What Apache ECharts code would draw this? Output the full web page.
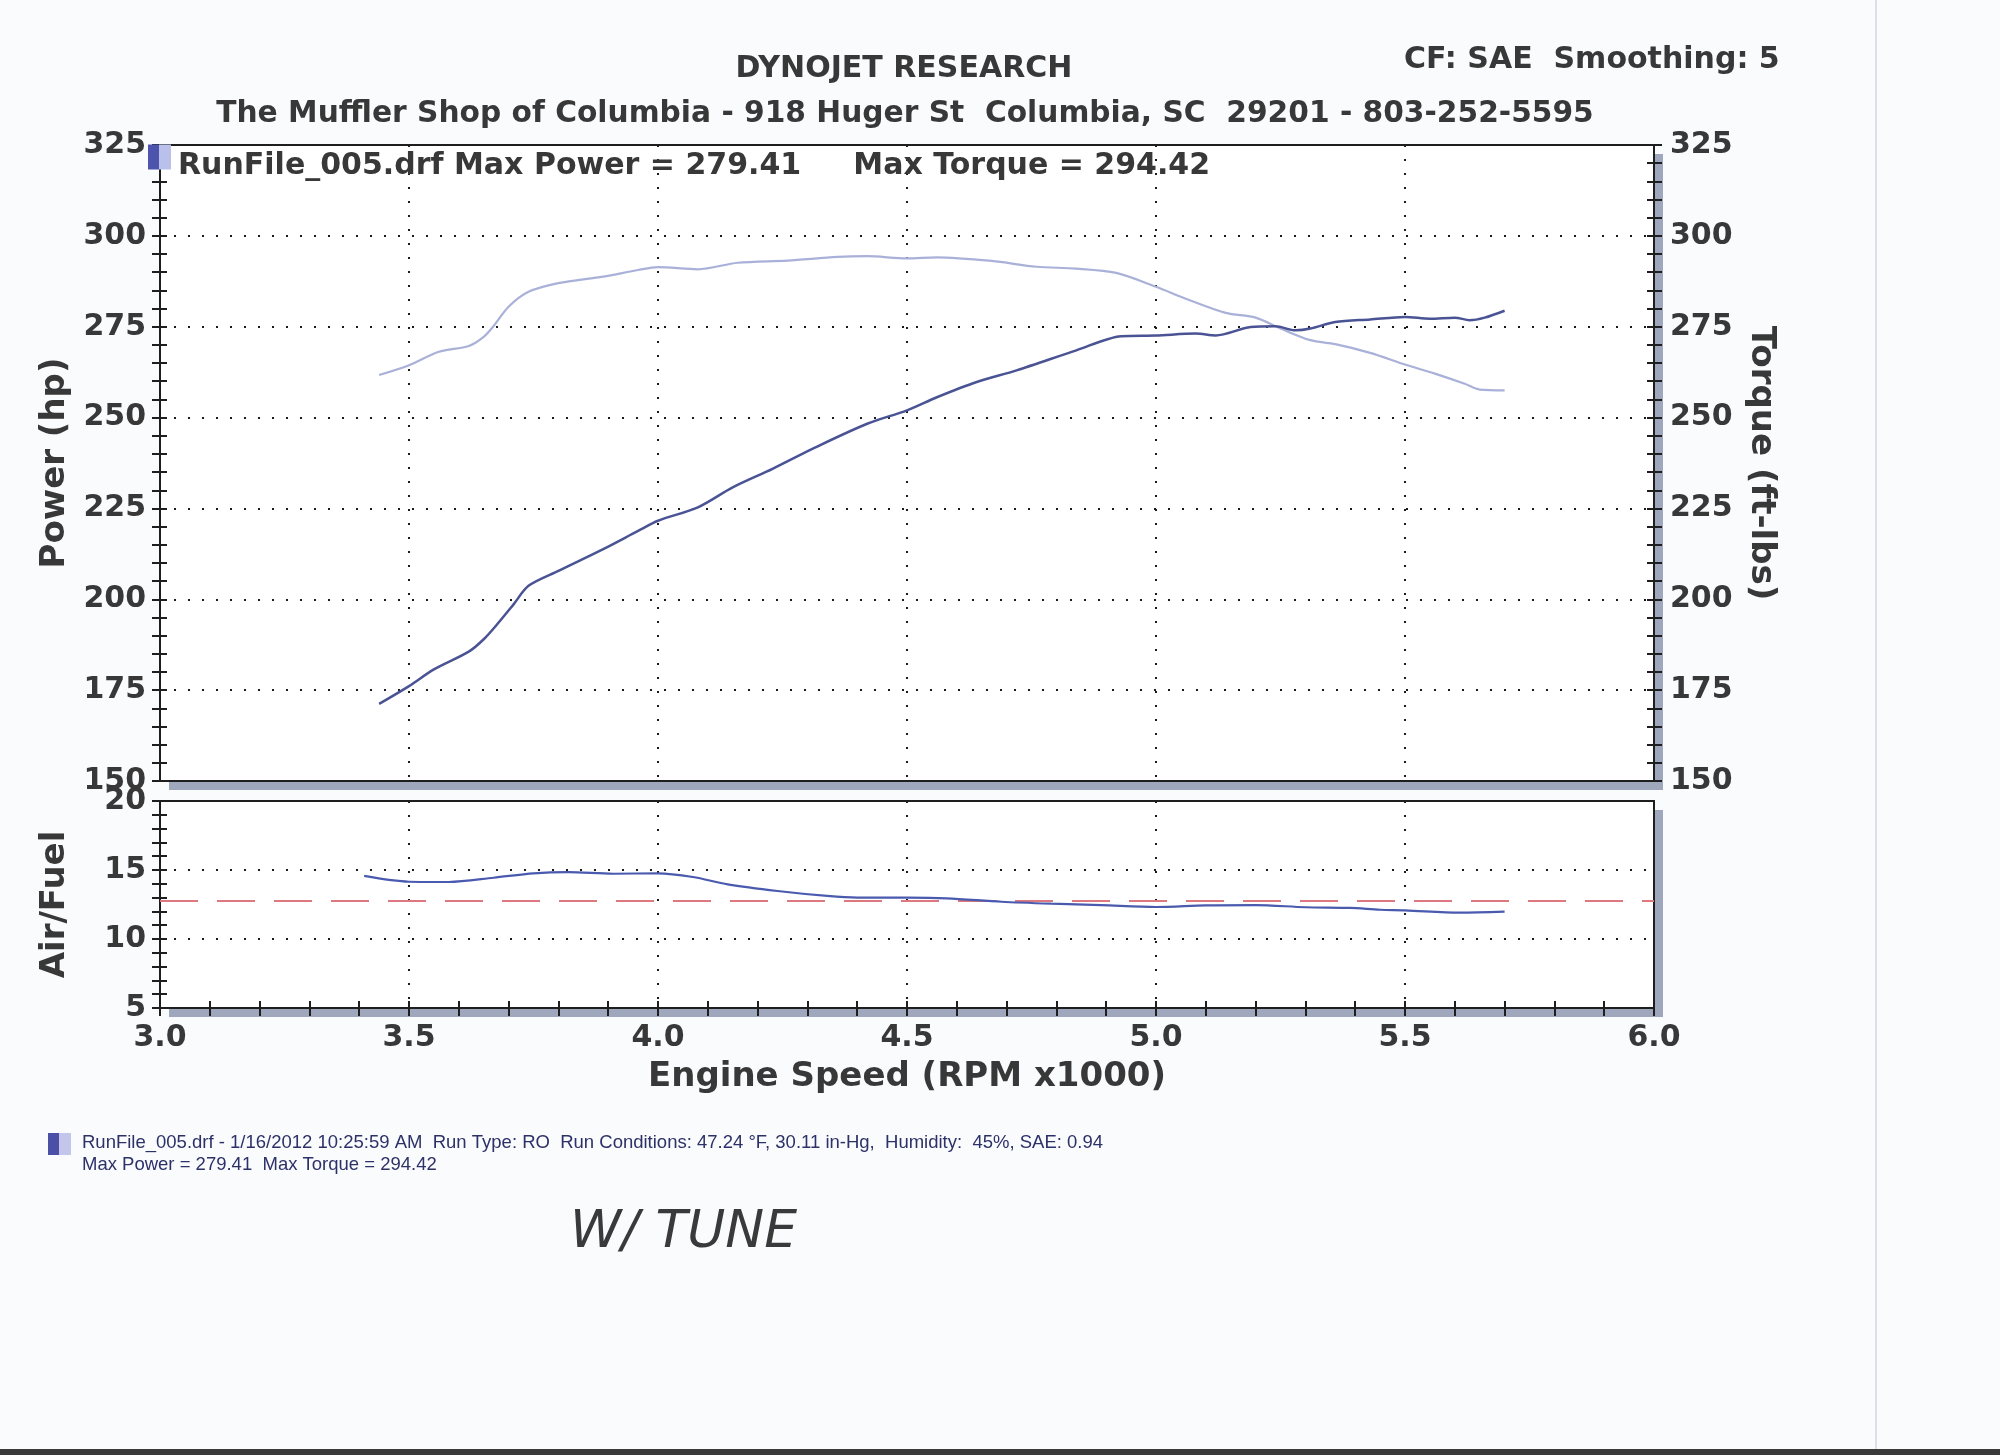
<!DOCTYPE html>
<html>
<head>
<meta charset="utf-8">
<script src="https://cdn.jsdelivr.net/npm/echarts@6/dist/echarts.min.js"></script>
<style>
html,body{margin:0;padding:0;background:#fafbfd;}
#chart{width:2000px;height:1455px;}
</style>
</head>
<body>
<div id="chart"></div>
<script>
// ---- Data read from the dyno sheet ----
const powerRpm = [3.44,3.50,3.55,3.62,3.65,3.68,3.71,3.74,3.80,3.89,3.96,4.00,4.08,4.15,4.23,4.31,4.42,4.50,4.56,4.64,4.72,4.84,4.93,5.00,5.08,5.12,5.19,5.24,5.28,5.31,5.36,5.43,5.50,5.55,5.60,5.63,5.66,5.70];
const powerHp  = [171.2,176.1,180.7,185.6,189.0,193.6,198.6,203.7,207.8,213.8,218.8,221.6,225.3,230.8,235.9,241.4,248.3,252.0,255.6,259.8,263.0,268.5,272.4,272.6,273.1,272.6,274.9,275.1,274.0,274.5,276.3,277.0,277.7,277.2,277.5,276.8,277.5,279.4];

const torqueRpm = [3.44,3.50,3.56,3.62,3.65,3.67,3.70,3.74,3.80,3.89,3.96,4.00,4.08,4.16,4.26,4.36,4.42,4.50,4.56,4.67,4.76,4.84,4.92,5.00,5.06,5.14,5.20,5.25,5.31,5.36,5.43,5.50,5.56,5.62,5.65,5.70];
const torqueFtLb = [261.7,264.4,268.1,269.7,272.2,275.2,280.5,284.6,287.0,288.8,290.6,291.4,290.8,292.6,293.2,294.2,294.4,293.8,294.1,293.1,291.5,291.0,289.8,286.0,282.7,278.8,277.5,274.5,271.3,270.2,267.8,264.6,262.1,259.3,257.7,257.5];

const afrRpm = [3.41,3.50,3.58,3.67,3.75,3.82,3.91,4.00,4.07,4.14,4.24,4.34,4.40,4.50,4.58,4.69,4.79,4.89,5.00,5.10,5.20,5.30,5.39,5.45,5.50,5.61,5.70];
const afrRatio = [14.57,14.15,14.13,14.44,14.76,14.85,14.73,14.76,14.49,13.96,13.48,13.12,13.0,13.0,12.95,12.70,12.56,12.46,12.32,12.44,12.46,12.30,12.25,12.12,12.08,11.91,11.98];

const targetAfr = 12.8;

const rpmTicks = ['3.0','3.5','4.0','4.5','5.0','5.5','6.0'];
const powerTicks = [150,175,200,225,250,275,300,325];
const afrTicks = [5,10,15,20];

const runName = 'RunFile_005.drf';
const maxPower = '279.41';
const maxTorque = '294.42';

// ---- Helpers ----
const zip = (xs, ys) => xs.map((x, i) => [x, ys[i]]);
const FONT = 'DejaVu Sans';
const TXT = '#383838';
const INK = '#1e1e1e';
const dotted = { color: '#1a1a1a', width: 2, type: [2, 12] };
const lblStyle = { fontFamily: FONT, fontWeight: 'bold', fontSize: 30, color: TXT };
const nameStyle = { fontFamily: FONT, fontWeight: 'bold', fontSize: 34, color: TXT };
const solid = { color: INK, width: 2 };

const chart = echarts.init(document.getElementById('chart'), null, { renderer: 'canvas' });

const gridBase = {
  show: true, backgroundColor: '#ffffff', borderWidth: 0,
  shadowColor: '#9ea7bc', shadowOffsetX: 9, shadowOffsetY: 9, shadowBlur: 0
};

const yPair = (grid, min, max, interval, pos, extra) => ([
  Object.assign({
    type: 'value', gridIndex: grid, min, max, interval, position: pos,
    axisLine: { show: true, onZero: false, lineStyle: solid },
    axisTick: { show: true, inside: false, length: 8, lineStyle: solid },
    minorTick: { show: true, splitNumber: 5, length: 8, lineStyle: solid },
    axisLabel: Object.assign({ margin: 14 }, lblStyle),
    splitLine: { show: false }
  }, extra),
  {
    type: 'value', gridIndex: grid, min, max, interval, position: pos,
    axisLine: { show: false },
    axisTick: { show: true, inside: true, length: 7, lineStyle: solid },
    minorTick: { show: true, splitNumber: 5, length: 7, lineStyle: solid },
    axisLabel: { show: false }, splitLine: { show: false }
  }
]);

const frameY = (grid, min, max, pos) => ({
  type: 'value', gridIndex: grid, min, max, position: pos,
  axisLine: { show: true, onZero: false, lineStyle: solid },
  axisTick: { show: false }, axisLabel: { show: false }, splitLine: { show: false }
});

const yAxes = [].concat(
  yPair(0, 150, 325, 25, 'left', {
    name: 'Power (hp)', nameLocation: 'middle', nameGap: 88, nameTextStyle: nameStyle,
    splitLine: { show: true, lineStyle: dotted }
  }),
  yPair(0, 150, 325, 25, 'right', {
    name: 'Torque (ft-lbs)', nameLocation: 'middle', nameGap: 88, nameRotate: -90, nameTextStyle: nameStyle,
    axisLabel: Object.assign({ margin: 16 }, lblStyle)
  }),
  yPair(1, 5, 20, 5, 'left', {
    name: 'Air/Fuel', nameLocation: 'middle', nameGap: 88, nameTextStyle: nameStyle,
    splitLine: { show: true, lineStyle: dotted }
  }),
  [frameY(1, 5, 20, 'right')]
);

const frameX = (grid, pos) => ({
  type: 'value', gridIndex: grid, min: 3, max: 6, position: pos,
  axisLine: { show: true, onZero: false, lineStyle: solid },
  axisTick: { show: false }, axisLabel: { show: false }, splitLine: { show: false }
});

const xAxes = [
  {
    type: 'value', gridIndex: 0, min: 3, max: 6, interval: 0.5, position: 'bottom',
    axisLine: { show: true, onZero: false, lineStyle: solid }, axisTick: { show: false }, axisLabel: { show: false },
    splitLine: { show: true, lineStyle: dotted }
  },
  {
    type: 'value', gridIndex: 1, min: 3, max: 6, interval: 0.5, position: 'bottom',
    axisLine: { show: true, onZero: false, lineStyle: solid },
    axisTick: { show: true, inside: false, length: 8, lineStyle: solid },
    minorTick: { show: true, splitNumber: 5, length: 8, lineStyle: solid },
    axisLabel: Object.assign({ margin: 15, formatter: v => rpmTicks[Math.round((v - 3) / 0.5)] }, lblStyle),
    splitLine: { show: true, lineStyle: dotted },
    name: 'Engine Speed (RPM x1000)', nameLocation: 'middle', nameGap: 52, nameTextStyle: nameStyle
  },
  {
    type: 'value', gridIndex: 1, min: 3, max: 6, interval: 0.5, position: 'bottom',
    axisLine: { show: false },
    axisTick: { show: true, inside: true, length: 7, lineStyle: solid },
    minorTick: { show: true, splitNumber: 5, length: 7, lineStyle: solid },
    axisLabel: { show: false }, splitLine: { show: false }
  },
  frameX(0, 'top'),
  frameX(1, 'top')
];

const iconGradient = {
  type: 'linear', x: 0, y: 0, x2: 1, y2: 0,
  colorStops: [
    { offset: 0, color: '#4c54ae' }, { offset: 0.5, color: '#4c54ae' },
    { offset: 0.5, color: '#b9c0ea' }, { offset: 1, color: '#b9c0ea' }
  ]
};

const headStyle = { fontFamily: FONT, fontWeight: 'bold', fontSize: 30, color: TXT, lineHeight: 32 };

const option = {
  backgroundColor: '#fafbfd',
  animation: false,
  title: [
    { text: 'DYNOJET RESEARCH', left: 904, top: 53, textAlign: 'center', padding: 0, textStyle: headStyle },
    { text: 'The Muffler Shop of Columbia - 918 Huger St  Columbia, SC  29201 - 803-252-5595', left: 905, top: 98, textAlign: 'center', padding: 0,
      textStyle: Object.assign({}, headStyle, { fontSize: 29.7 }) },
    { text: 'CF: SAE  Smoothing: 5', left: 1404, top: 44, padding: 0, textStyle: headStyle },
    { text: runName + ' - 1/16/2012 10:25:59 AM  Run Type: RO  Run Conditions: 47.24 °F, 30.11 in-Hg,  Humidity:  45%, SAE: 0.94\nMax Power = ' + maxPower + '  Max Torque = ' + maxTorque,
      left: 82, top: 1132, padding: 0,
      textStyle: { fontFamily: 'Liberation Sans', fontWeight: 'normal', fontSize: 18.5, lineHeight: 22, color: '#2c3168' } },
    { text: 'W/ TUNE', left: 570, top: 1207, padding: 0,
      textStyle: { fontFamily: FONT, fontWeight: 200, fontStyle: 'italic', fontSize: 52, color: '#3a3a3a' } }
  ],
  legend: {
    left: 148, top: 133, padding: 0, itemWidth: 23, itemHeight: 25,
    selectedMode: false,
    data: [{ name: runName, icon: 'rect', itemStyle: { color: iconGradient } }],
    formatter: () => '{t|' + runName + ' Max Power = ' + maxPower + '     Max Torque = ' + maxTorque + '}',
    textStyle: {
      fontFamily: FONT, fontWeight: 'bold', fontSize: 30, color: TXT,
      rich: { t: { fontFamily: FONT, fontWeight: 'bold', fontSize: 30, color: TXT, padding: [18, 0, 0, 2], lineHeight: 32 } }
    }
  },
  grid: [
    Object.assign({ left: 160, right: 346, top: 145, height: 636 }, gridBase),
    Object.assign({ left: 160, right: 346, top: 801, height: 207 }, gridBase)
  ],
  xAxis: xAxes,
  yAxis: yAxes,
  graphic: [
    { type: 'rect', left: 48, top: 1133, shape: { width: 11, height: 22 }, style: { fill: '#4b4fa6' } },
    { type: 'rect', left: 59, top: 1133, shape: { width: 12, height: 22 }, style: { fill: '#c3c6ea' } },
    { type: 'line', shape: { x1: 1876, y1: 0, x2: 1876, y2: 1455 }, style: { stroke: '#dde0e8', lineWidth: 2 } },
    { type: 'rect', left: 0, top: 1449, shape: { width: 2000, height: 6 }, style: { fill: '#3a3a3a' } }
  ],
  series: [
    {
      name: runName, type: 'line', xAxisIndex: 0, yAxisIndex: 0,
      data: zip(powerRpm, powerHp), showSymbol: false, symbol: 'none', smooth: 0.3,
      lineStyle: { color: '#4a5394', width: 2.5 }, itemStyle: { color: '#4a5394' }, z: 5
    },
    {
      name: 'Torque', type: 'line', xAxisIndex: 0, yAxisIndex: 2,
      data: zip(torqueRpm, torqueFtLb), showSymbol: false, symbol: 'none', smooth: 0.3,
      lineStyle: { color: '#a9b1d9', width: 2.2 }, z: 4
    },
    {
      name: 'Air/Fuel', type: 'line', xAxisIndex: 1, yAxisIndex: 4,
      data: zip(afrRpm, afrRatio), showSymbol: false, symbol: 'none', smooth: 0.3,
      lineStyle: { color: '#4a5aae', width: 2.2 }, z: 5,
      markLine: {
        silent: true, symbol: ['none', 'none'], label: { show: false },
        lineStyle: { color: '#de7880', width: 2, type: [38, 19] },
        data: [{ yAxis: targetAfr }]
      }
    }
  ]
};
chart.setOption(option);
</script>
</body>
</html>
